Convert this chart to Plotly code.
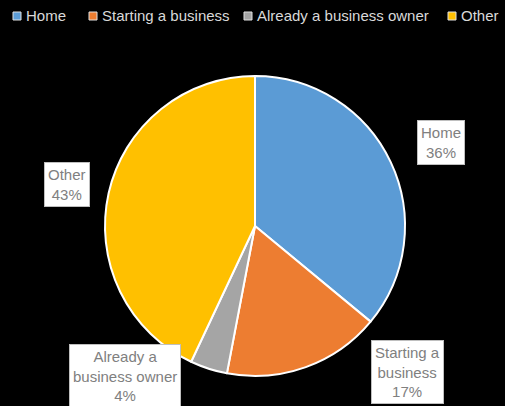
import plotly.graph_objects as go

categories = ["Home", "Starting a business", "Already a business owner", "Other"]
shares = [36, 17, 4, 43]
label_lines = ["Home", "Starting a<br>business", "Already a<br>business owner", "Other"]
colors = ["#5B9BD5", "#ED7D31", "#A5A5A5", "#FFC000"]

W, H = 505, 406

# centre of each data label box (paper coords)
label_pos = [(441 / W, 1 - 142 / H), (407 / W, 1 - 372 / H),
             (125 / W, 1 - 376 / H), (67 / W, 1 - 185 / H)]
# left edge of each legend swatch, in pixels
legend_px = [13, 89, 244, 448]

fig = go.Figure(go.Pie(
    labels=categories,
    values=shares,
    sort=False,
    direction="clockwise",
    rotation=0,
    marker=dict(colors=colors, line=dict(color="white", width=2)),
    textinfo="none",
    hoverinfo="label+percent",
    showlegend=False,
    domain=dict(x=[105 / W, 405 / W], y=[1 - 376 / H, 1 - 76 / H]),
))

total = sum(shares)
annotations = []
for txt, v, (ax, ay) in zip(label_lines, shares, label_pos):
    annotations.append(dict(
        x=ax, y=ay, xref="paper", yref="paper",
        xanchor="center", yanchor="middle",
        text=f"{txt}<br>{round(100 * v / total)}%",
        showarrow=False,
        font=dict(family="Liberation Sans", size=15, color="#808080"),
        bgcolor="white",
        bordercolor="#BFBFBF",
        borderwidth=1,
        borderpad=3,
        align="center",
    ))

# compact legend row across the top: swatch + name
shapes = []
for name, c, px in zip(categories, colors, legend_px):
    shapes.append(dict(
        type="rect", xref="paper", yref="paper",
        x0=px / W, x1=(px + 8) / W, y0=1 - 20 / H, y1=1 - 12 / H,
        fillcolor=c, line=dict(color="#E0E0E0", width=1),
    ))
    annotations.append(dict(
        x=(px + 11) / W, y=1 - 16 / H, xref="paper", yref="paper",
        xanchor="left", yanchor="middle",
        text=name,
        showarrow=False,
        font=dict(family="Liberation Sans", size=15, color="#D9D9D9"),
    ))

fig.update_layout(
    width=W, height=H,
    paper_bgcolor="black",
    plot_bgcolor="black",
    margin=dict(l=0, r=0, t=0, b=0),
    showlegend=False,
    annotations=annotations,
    shapes=shapes,
)

fig.write_html("out.html")
